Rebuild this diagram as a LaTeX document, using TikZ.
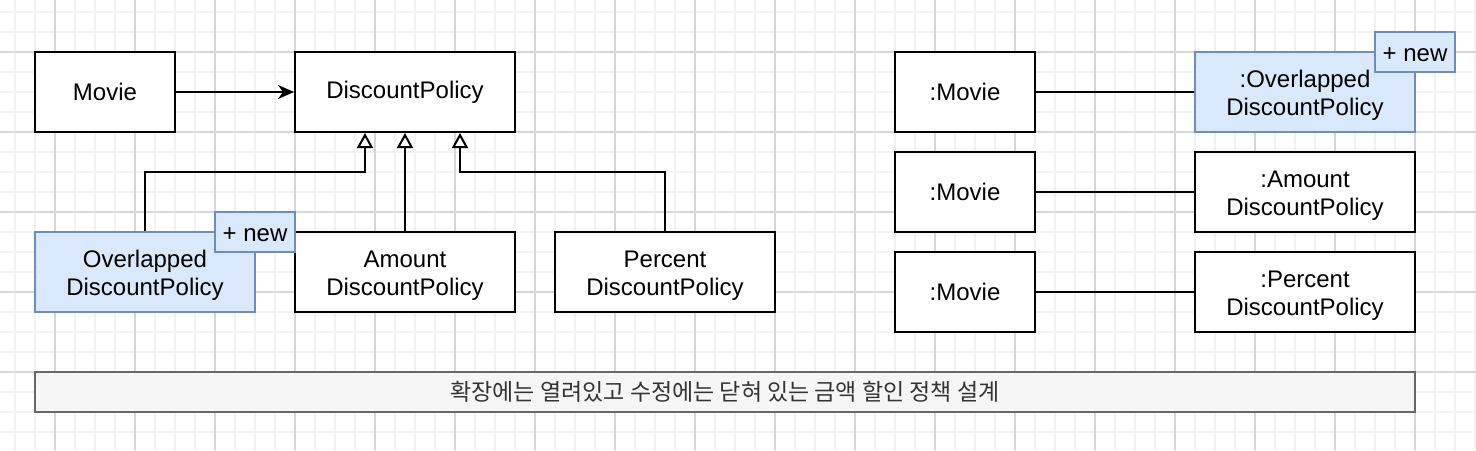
\documentclass[tikz,border=0pt]{standalone}
\usepackage{fontspec}
\setmainfont{Liberation Sans}
\newfontfamily\krfont{Noto Sans CJK KR}
\usepackage{tikz}
\usetikzlibrary{arrows.meta, positioning, calc}

\definecolor{gridminor}{HTML}{F2F2F2}
\definecolor{gridmajor}{HTML}{D6D6D6}
\definecolor{newfill}{HTML}{DAE8FC}
\definecolor{newdraw}{HTML}{6C8EBF}
\definecolor{barfill}{HTML}{F5F5F5}
\definecolor{bardraw}{HTML}{666666}
\definecolor{bartext}{HTML}{333333}

% two lines of a box label
\newcommand{\twoline}[2]{\raisebox{-2pt}[\height][\depth]{\begin{tabular}{@{}c@{}}#1\\#2\end{tabular}}}

\begin{document}
\begin{tikzpicture}[
    x=0.5pt, y=-0.5pt,
    >={Stealth[length=8pt, width=7pt, inset=2.5pt]},
    every node/.style={font=\fontsize{12}{14}\selectfont},
    classbox/.style={draw, line width=1pt, fill=white, minimum width=70pt, minimum height=40pt, align=center, inner sep=0pt},
    wide/.style={minimum width=110pt},
    newbox/.style={classbox, draw=newdraw, fill=newfill},
    tagbox/.style={draw=newdraw, fill=newfill, line width=1pt, minimum width=40pt, minimum height=20pt, inner sep=0pt, text height=9.4pt, text depth=0pt},
    inherit/.style={line width=1pt, -{Triangle[fill=white, length=7.5pt, width=8pt]}},
    link/.style={line width=1pt}
]

\useasboundingbox (0,0) rectangle (1476,450);

% Background grid
\foreach \gx in {15,35,...,1475} \draw[gridminor, line width=1pt] (\gx,0) -- (\gx,450);
\foreach \gy in {12,32,...,450} \draw[gridminor, line width=1pt] (0,\gy) -- (1476,\gy);
\foreach \gx in {55,135,...,1475} \draw[gridmajor, line width=1pt] (\gx,0) -- (\gx,450);
\foreach \gy in {52,132,...,450} \draw[gridmajor, line width=1pt] (0,\gy) -- (1476,\gy);

% Class diagram
\node[classbox] (movie) at (105,92) {Movie};
\node[classbox, wide] (policy) at (405,92) {DiscountPolicy};
\node[newbox, wide] (overlapped) at (145,272) {\twoline{Overlapped}{DiscountPolicy}};
\node[classbox, wide] (amount) at (405,272) {\twoline{Amount}{DiscountPolicy}};
\node[classbox, wide] (percent) at (665,272) {\twoline{Percent}{DiscountPolicy}};
\node[tagbox] (tagleft) at (255,232) {+ new};

\draw[->, line width=1pt] (movie) -- (policy);

% Inheritance
\coordinate (joinL) at (365,172);
\coordinate (joinR) at (460,172);
\draw[inherit] (overlapped.north) |- (joinL) -- (joinL |- policy.south);
\draw[inherit] (amount.north) -- (policy.south);
\draw[inherit] (percent.north) |- (joinR) -- (joinR |- policy.south);

% Object diagram
\node[classbox] (movieA) at (965,92) {:Movie};
\node[classbox] (movieB) at (965,192) {:Movie};
\node[classbox] (movieC) at (965,292) {:Movie};
\node[newbox, wide] (objoverlapped) at (1305,92) {\twoline{:Overlapped}{DiscountPolicy}};
\node[classbox, wide] (objamount) at (1305,192) {\twoline{:Amount}{DiscountPolicy}};
\node[classbox, wide] (objpercent) at (1305,292) {\twoline{:Percent}{DiscountPolicy}};
\node[tagbox] (tagright) at (1415,52) {+ new};

\draw[link] (movieA) -- (objoverlapped);
\draw[link] (movieB) -- (objamount);
\draw[link] (movieC) -- (objpercent);

% Caption
\node[draw=bardraw, fill=barfill, line width=1pt, minimum width=690pt, minimum height=20pt, inner sep=0pt,
      text=bartext, font=\krfont\fontsize{11.5}{13}\selectfont] (caption) at (725,392)
      {확장에는 열려있고 수정에는 닫혀 있는 금액 할인 정책 설계};

\end{tikzpicture}
\end{document}
